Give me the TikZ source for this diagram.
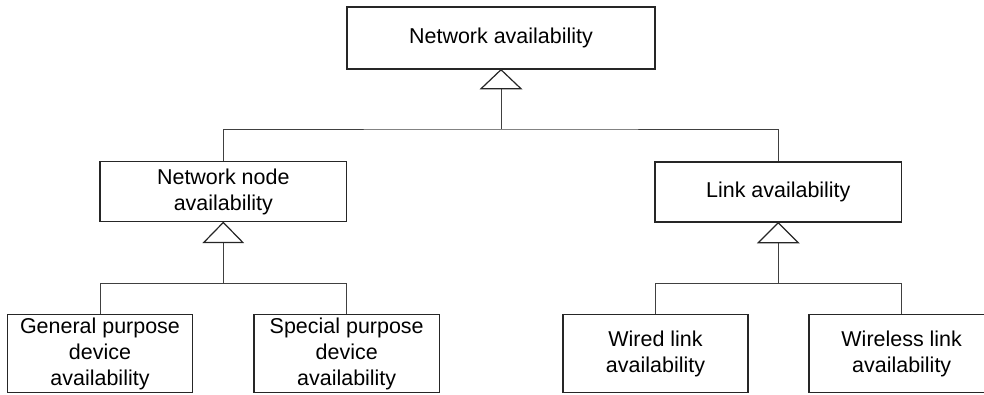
\documentclass[tikz,border=0pt]{standalone}
\usepackage{fontspec}
\setmainfont{Liberation Sans}
\usetikzlibrary{calc}
\begin{document}
\begin{tikzpicture}[x=0.75pt,y=-0.75pt,
  block/.style={draw=black!85,line width=1.1pt,fill=white,align=center,
    inner sep=0pt,font=\fontsize{16.1}{19.5}\selectfont},
  rootbox/.style={block,minimum width=231pt,minimum height=46.5pt},
  midbox/.style={block,minimum width=185pt,minimum height=45pt},
  leafbox/.style={block,minimum width=139pt,minimum height=58.8pt},
  wire/.style={draw=black!75,line width=0.75pt},
  inherit/.style={draw=black!85,line width=0.9pt,fill=white}]
\clip (0,0) rectangle (984,394);

% boxes
\node[rootbox] (root) at (501,38) {Network availability};
\node[midbox] (nodeav) at (223.3,191.7) {Network node\\availability};
\node[midbox] (linkav) at (778.3,192) {Link availability};
\node[leafbox] (gpd) at (100,353.5) {General purpose\\device\\availability};
\node[leafbox] (spd) at (346.7,353.5) {Special purpose\\device\\availability};
\node[leafbox] (wired) at (655.5,353.5) {Wired link\\availability};
\node[leafbox] (wless) at (901.7,353.5) {Wireless link\\availability};

% bus junctions
\coordinate (t0) at ($(root.south)+(0,19)$);
\coordinate (j0) at (root.south |- 0,129);
\coordinate (t1) at ($(nodeav.south)+(0,20)$);
\coordinate (j1) at (nodeav.south |- 0,283);
\coordinate (t2) at ($(linkav.south)+(0,20)$);
\coordinate (j2) at (linkav.south |- 0,283);

% connectors
\draw[wire] (t0) -- (j0);
\draw[wire] (nodeav.north) |- (j0) -| (linkav.north);
\draw[wire] (t1) -- (j1);
\draw[wire] (gpd.north) |- (j1) -| (spd.north);
\draw[wire] (t2) -- (j2);
\draw[wire] (wired.north) |- (j2) -| (wless.north);

% generalisation triangles
\draw[inherit] (root.south) -- ++(-20,19) -- ++(40,0) -- cycle;
\draw[inherit] (nodeav.south) -- ++(-19.5,20) -- ++(39,0) -- cycle;
\draw[inherit] (linkav.south) -- ++(-20,20) -- ++(40,0) -- cycle;
\end{tikzpicture}
\end{document}
